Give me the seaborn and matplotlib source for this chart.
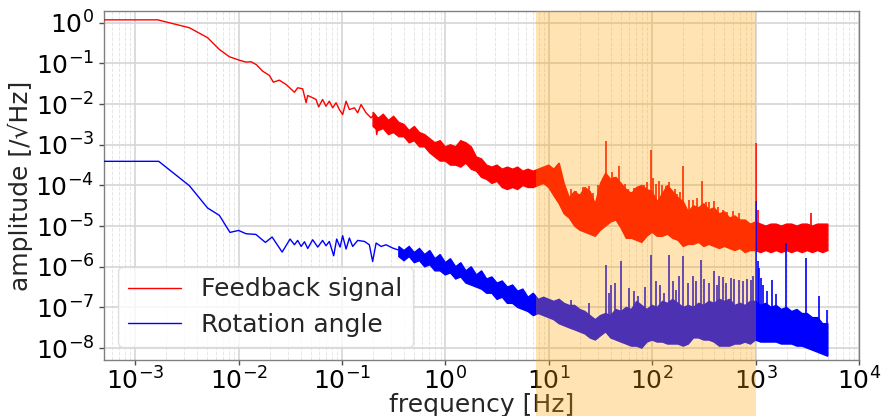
import matplotlib
matplotlib.use("Agg")
import numpy as np
import pandas as pd
import matplotlib.pyplot as plt
from matplotlib.lines import Line2D
from matplotlib.ticker import LogLocator, NullFormatter, NullLocator
import seaborn as sns

# ---------------------------------------------------------------------------
# Amplitude spectral densities
# ---------------------------------------------------------------------------
LABEL_FB = "Feedback signal"
LABEL_ROT = "Rotation angle"

# Low-frequency bins, drawn as a plain trace (first bin is DC)
fb_freq = [0.0, 1.65e-3, 3.34e-3, 5.02e-3, 6.52e-3, 8.15e-3, 1.02e-2, 1.18e-2,
           1.32e-2, 1.48e-2, 1.71e-2, 1.99e-2, 2.17e-2, 2.48e-2, 2.88e-2,
           3.47e-2, 3.73e-2, 4.17e-2, 4.50e-2, 4.66e-2, 5.21e-2, 5.61e-2,
           5.95e-2, 6.50e-2, 7.00e-2, 7.55e-2, 8.13e-2, 8.77e-2, 9.44e-2,
           0.1016, 0.1096, 0.118, 0.132, 0.142, 0.153, 0.171, 0.191, 0.206,
           0.217, 0.230, 0.257, 0.267]
fb_amp = [1.18, 1.18, 0.757, 0.43, 0.221, 0.146, 0.120, 0.108,
          0.110, 0.094, 0.0646, 0.0506, 0.0346, 0.0388, 0.0304,
          0.0196, 0.0252, 0.0238, 0.0108, 0.0163, 0.0143, 0.0130,
          0.00858, 0.0130, 0.00888, 0.0118, 0.0081, 0.0108, 0.00736,
          0.00554, 0.0118, 0.00736, 0.0081, 0.0061, 0.00977, 0.0061, 0.0046,
          0.00554, 0.00178, 0.00418, 0.00504, 0.00237]

rot_freq = [0.0, 1.69e-3, 3.34e-3, 5.02e-3, 6.52e-3, 8.26e-3, 1.0e-2, 1.18e-2,
            1.47e-2, 1.82e-2, 2.11e-2, 2.64e-2, 3.15e-2, 3.47e-2, 3.73e-2,
            4.03e-2, 4.34e-2, 4.67e-2, 5.21e-2, 5.83e-2, 6.50e-2, 7.01e-2,
            7.55e-2, 8.32e-2, 8.89e-2, 9.59e-2, 0.1016, 0.1096, 0.118, 0.127,
            0.142, 0.165, 0.184, 0.198, 0.214, 0.239, 0.267, 0.309, 0.346]
rot_amp = [3.92e-4, 3.92e-4, 9.89e-5, 2.79e-5, 1.84e-5, 7.0e-6, 7.83e-6, 6.5e-6,
           6.25e-6, 3.97e-6, 5.40e-6, 2.30e-6, 4.81e-6, 3.48e-6, 4.45e-6,
           3.16e-6, 4.13e-6, 2.82e-6, 4.62e-6, 3.05e-6, 4.45e-6, 3.29e-6,
           4.20e-6, 1.87e-6, 4.81e-6, 3.05e-6, 5.81e-6, 2.73e-6, 5.09e-6, 3.16e-6,
           4.45e-6, 4.20e-6, 3.48e-6, 1.35e-6, 3.84e-6, 3.16e-6, 3.48e-6, 2.89e-6,
           2.62e-6]

# Dense part of the spectra (0.2 Hz - 5 kHz): top and bottom of the noise band
band_freq = [0.200, 0.224, 0.251, 0.282, 0.316, 0.355, 0.398, 0.447, 0.501,
             0.562, 0.631, 0.708, 0.794, 0.891,
             1.00, 1.12, 1.26, 1.41, 1.58, 1.78, 2.00, 2.24, 2.51, 2.82, 3.16,
             3.55, 3.98, 4.47, 5.01, 5.62, 6.31, 7.08, 7.94, 8.91,
             10.0, 11.2, 12.6, 14.1, 15.8, 17.8, 20.0, 22.4, 25.1, 28.2, 31.6,
             35.5, 39.8, 44.7, 50.1, 56.2, 63.1, 70.8, 79.4, 89.1,
             100.0, 112.0, 126.0, 141.0, 158.0, 178.0, 200.0, 224.0, 251.0,
             282.0, 316.0, 355.0, 398.0, 447.0, 501.0, 562.0, 631.0, 708.0,
             794.0, 891.0,
             1000.0, 1122.0, 1259.0, 1413.0, 1585.0, 1778.0, 1995.0, 2239.0,
             2512.0, 2818.0, 3162.0, 3548.0, 3981.0, 4467.0, 5000.0]

fb_band_top = [6.31e-3, 4.47e-3, 5.62e-3, 3.98e-3, 5.01e-3, 3.55e-3, 3.16e-3,
               2.24e-3, 2.82e-3, 2.00e-3, 1.78e-3, 1.41e-3, 1.12e-3, 1.26e-3,
               8.91e-4, 1.00e-3, 8.91e-4, 1.26e-3, 1.12e-3, 8.91e-4, 5.01e-4,
               4.47e-4, 3.16e-4, 2.82e-4, 3.16e-4, 2.51e-4, 2.82e-4, 2.51e-4,
               2.82e-4, 2.24e-4, 2.51e-4, 2.24e-4, 2.51e-4, 2.82e-4,
               3.16e-4, 2.51e-4, 3.55e-4, 1.12e-4, 5.01e-5, 7.08e-5, 5.62e-5,
               8.91e-5, 7.08e-5, 3.55e-5, 1.12e-4, 2.00e-4, 1.41e-4, 1.58e-4,
               1.12e-4, 7.94e-5, 6.31e-5, 8.91e-5, 1.00e-4, 7.94e-5,
               7.08e-5, 3.98e-5, 6.31e-5, 1.00e-4, 7.08e-5, 5.01e-5, 3.98e-5,
               2.24e-5, 3.16e-5, 2.82e-5, 3.55e-5, 2.51e-5, 2.82e-5, 2.00e-5,
               2.24e-5, 1.58e-5, 1.78e-5, 1.41e-5, 1.41e-5, 1.12e-5,
               1.26e-5, 1.12e-5, 1.00e-5, 1.12e-5, 1.12e-5, 1.00e-5, 1.12e-5,
               1.12e-5, 1.00e-5, 1.12e-5, 1.12e-5, 1.00e-5, 1.12e-5, 1.12e-5,
               1.12e-5]
fb_band_bottom = [2.82e-3, 2.24e-3, 2.51e-3, 1.78e-3, 2.00e-3, 1.58e-3, 1.58e-3,
                  1.12e-3, 1.26e-3, 8.91e-4, 8.91e-4, 6.31e-4, 5.01e-4, 3.98e-4,
                  3.98e-4, 3.16e-4, 3.16e-4, 2.82e-4, 3.55e-4, 2.51e-4, 2.24e-4,
                  1.58e-4, 1.41e-4, 1.12e-4, 1.26e-4, 8.91e-5, 7.94e-5, 8.91e-5,
                  7.94e-5, 1.00e-4, 8.91e-5, 8.91e-5, 1.00e-4, 1.12e-4,
                  8.91e-5, 5.62e-5, 3.55e-5, 2.00e-5, 1.58e-5, 1.00e-5, 7.94e-6,
                  7.08e-6, 6.31e-6, 5.62e-6, 7.94e-6, 1.00e-5, 1.26e-5, 1.41e-5,
                  8.91e-6, 5.01e-6, 5.01e-6, 4.47e-6, 3.98e-6, 5.62e-6,
                  7.08e-6, 5.62e-6, 5.62e-6, 6.31e-6, 5.01e-6, 4.47e-6, 3.16e-6,
                  3.55e-6, 3.55e-6, 3.98e-6, 3.16e-6, 3.55e-6, 3.16e-6, 2.82e-6,
                  3.16e-6, 2.82e-6, 2.51e-6, 2.82e-6, 2.24e-6, 2.51e-6,
                  2.51e-6, 2.24e-6, 2.51e-6, 2.24e-6, 2.51e-6, 2.24e-6, 2.51e-6,
                  2.24e-6, 2.51e-6, 2.24e-6, 2.51e-6, 2.24e-6, 2.51e-6, 2.24e-6,
                  2.51e-6]

# the rotation band starts at 0.355 Hz (sixth entry of band_freq)
rot_band_start = 5
rot_band_top = [3.16e-6, 2.51e-6, 3.16e-6, 2.24e-6, 2.82e-6, 2.00e-6, 2.51e-6,
                1.58e-6, 2.00e-6,
                1.26e-6, 1.58e-6, 1.00e-6, 1.26e-6, 7.94e-7, 1.00e-6, 6.31e-7,
                7.94e-7, 5.01e-7, 5.62e-7, 3.98e-7, 4.47e-7, 3.16e-7, 3.55e-7,
                2.51e-7, 2.82e-7, 1.78e-7, 2.24e-7, 1.58e-7, 1.78e-7,
                1.58e-7, 1.41e-7, 1.58e-7, 1.26e-7, 1.12e-7, 1.12e-7, 8.91e-8,
                7.94e-8, 6.31e-8, 5.01e-8, 6.31e-8, 7.08e-8, 6.31e-8, 8.91e-8,
                7.94e-8, 1.00e-7, 8.91e-8, 1.41e-7, 1.12e-7, 8.91e-8,
                1.12e-7, 1.00e-7, 1.41e-7, 1.26e-7, 1.58e-7, 1.26e-7, 1.00e-7,
                1.12e-7, 1.00e-7, 1.26e-7, 1.12e-7, 1.41e-7, 1.26e-7, 1.58e-7,
                1.41e-7, 1.58e-7, 1.12e-7, 1.26e-7, 1.12e-7, 1.41e-7,
                1.41e-7, 1.12e-7, 1.26e-7, 1.00e-7, 1.12e-7, 8.91e-8, 1.00e-7,
                7.94e-8, 8.91e-8, 7.08e-8, 7.08e-8, 5.62e-8, 5.62e-8, 3.98e-8,
                3.98e-8]
rot_band_bottom = [1.78e-6, 1.41e-6, 1.78e-6, 1.26e-6, 1.41e-6, 1.00e-6,
                   1.12e-6, 7.94e-7, 7.94e-7,
                   6.31e-7, 7.08e-7, 5.01e-7, 5.62e-7, 3.98e-7, 3.55e-7,
                   3.16e-7, 2.82e-7, 2.24e-7, 2.24e-7, 1.58e-7, 1.78e-7,
                   1.26e-7, 1.26e-7, 1.00e-7, 8.91e-8, 7.94e-8, 6.31e-8,
                   7.08e-8, 6.31e-8,
                   5.62e-8, 5.01e-8, 3.98e-8, 3.55e-8, 3.16e-8, 2.82e-8,
                   2.51e-8, 2.24e-8, 1.78e-8, 1.58e-8, 2.00e-8, 2.51e-8,
                   1.78e-8, 1.58e-8, 1.41e-8, 1.26e-8, 1.12e-8, 1.12e-8,
                   1.00e-8, 1.41e-8,
                   1.58e-8, 1.41e-8, 1.41e-8, 1.26e-8, 1.26e-8, 1.26e-8,
                   1.12e-8, 1.26e-8, 1.78e-8, 1.78e-8, 1.58e-8, 1.58e-8,
                   1.41e-8, 1.12e-8, 1.12e-8, 1.12e-8, 1.26e-8, 1.26e-8,
                   1.41e-8, 1.26e-8,
                   1.58e-8, 1.41e-8, 1.41e-8, 1.41e-8, 1.41e-8, 1.26e-8,
                   1.26e-8, 1.26e-8, 1.12e-8, 1.12e-8, 1.00e-8, 8.91e-9,
                   7.94e-9, 7.08e-9, 6.31e-9]

# Narrow spectral lines: frequency, floor, peak
fb_line_freq = [16.44, 18.5, 19.5, 21.28, 22.5, 24.72, 27.0, 30.0, 33.2, 35.8,
                40.5, 42.5, 45.5, 48.2, 55.0, 58.5, 62.0, 66.0, 72.4, 75.2,
                84.1, 90.0, 97.5, 103.0, 108.0, 117.5, 125.0, 136.1, 146.6,
                165.0, 175.0, 185.0, 200.4, 225.0, 246.6, 270.0, 304.1, 330.0,
                357.3, 399.9, 430.0, 480.8, 530.0, 601.2, 696.6, 1000.0,
                1064.0, 3436.0]
fb_line_floor = [2e-5, 2e-5, 2e-5, 2e-5, 2e-5, 2e-5, 2e-5, 2e-5, 3e-5, 3e-5,
                 3e-5, 3e-5, 3e-5, 3e-5, 2e-5, 2e-5, 1.5e-5, 1.5e-5, 1.5e-5,
                 1.5e-5, 1.5e-5, 1.5e-5, 1.5e-5, 1.5e-5, 1.5e-5, 1.5e-5,
                 1.5e-5, 1.5e-5, 1.5e-5, 1e-5, 1e-5, 1e-5, 1e-5, 1e-5, 1e-5,
                 1e-5, 1e-5, 8e-6, 8e-6, 8e-6, 6e-6, 6e-6, 6e-6, 6e-6, 6e-6,
                 5e-6, 5e-6, 5e-6]
fb_line_peak = [8.2e-5, 7.5e-5, 6.0e-5, 9.18e-5, 8.0e-5, 9.89e-5, 6.5e-5,
                1.0e-4, 1.53e-4, 1.22e-3, 2.2e-4, 1.6e-4, 1.3e-4, 2.95e-4,
                1.1e-4, 8.0e-5, 7.0e-5, 8.5e-5, 9.18e-5, 9.51e-5, 1.05e-4,
                1.2e-4, 7.33e-4, 1.5e-4, 1.1e-4, 1.26e-4, 1.0e-4, 9.89e-5,
                1.19e-4, 8.0e-5, 6.0e-5, 7.0e-5, 2.95e-4, 4.5e-5, 4.47e-5,
                5.0e-5, 1.26e-4, 4.0e-5, 3.81e-5, 4.06e-5, 3.0e-5, 2.54e-5,
                2.2e-5, 2.39e-5, 2.10e-5, 1.11e-3, 2.54e-5, 2.10e-5]

rot_line_freq = [16.44, 24.72, 35.8, 38.55, 40.0, 44.0, 50.0, 60.0, 66.0, 72.4,
                 85.0, 97.5, 110.0, 120.0, 131.2, 146.6, 160.0, 170.2, 180.0,
                 197.2, 220.0, 246.6, 265.0, 297.2, 320.0, 357.3, 399.9, 420.0,
                 446.7, 480.0, 520.0, 579.4, 620.0, 696.6, 750.0, 820.0, 903.6,
                 950.0, 1000.0, 1064.0, 1089.0, 1135.0, 1175.0, 1300.0, 1432.0,
                 1580.0, 1972.0, 3083.0, 4111.0, 4909.0]
rot_line_floor = [4e-8, 3e-8, 3e-8, 3e-8, 3e-8, 3e-8, 3e-8, 3e-8, 3e-8, 3e-8,
                  3e-8, 3e-8, 3e-8, 3e-8, 3e-8, 3e-8, 3e-8, 3e-8, 3e-8, 3e-8,
                  3e-8, 3e-8, 3e-8, 3e-8, 3e-8, 3e-8, 3e-8, 3e-8, 3e-8, 3e-8,
                  3e-8, 3e-8, 3e-8, 3e-8, 3e-8, 3e-8, 3e-8, 3e-8, 3e-8, 3e-8,
                  3e-8, 3e-8, 3e-8, 3e-8, 3e-8, 3e-8, 3e-8, 3e-8, 2e-8, 1.5e-8]
rot_line_peak = [1.54e-7, 1.28e-7, 1.12e-6, 2.25e-7, 3.5e-7, 4.0e-7, 1.35e-6,
                 3.0e-7, 2.5e-7, 1.86e-7, 3.2e-7, 1.98e-6, 4.5e-7, 3.5e-7,
                 2.25e-7, 1.98e-6, 4.5e-7, 2.72e-7, 6.0e-7, 1.87e-6, 4.0e-7,
                 5.77e-7, 4.5e-7, 1.49e-6, 5.0e-7, 3.96e-7, 7.66e-7, 3.5e-7,
                 5.77e-7, 5.5e-7, 4.0e-7, 5.27e-7, 5.0e-7, 4.79e-7, 4.5e-7,
                 5.0e-7, 4.79e-7, 6.0e-7, 4.06e-5, 1.35e-6, 9.4e-7, 5.27e-7,
                 3.5e-7, 2.5e-7, 4.79e-7, 2.2e-7, 3.84e-6, 1.64e-6, 1.86e-7,
                 8.73e-8]

# Band of interest
band_lo, band_hi = 7.5, 1000.0

x_ticks = [1e-3, 1e-2, 1e-1, 1e0, 1e1, 1e2, 1e3, 1e4]
y_ticks = [1e-8, 1e-7, 1e-6, 1e-5, 1e-4, 1e-3, 1e-2, 1e-1, 1e0]

# ---------------------------------------------------------------------------
sns.set_style("white")
plt.rcParams.update({
    "font.family": ["DejaVu Sans"],
    "axes.edgecolor": "0.5",
    "axes.linewidth": 1.0,
    "xtick.color": "0.3",
    "ytick.color": "0.3",
    "xtick.labelcolor": "black",
    "ytick.labelcolor": "black",
})

colors = {LABEL_FB: "#ff0000", LABEL_ROT: "#0000ff"}

fig = plt.figure(figsize=(8.83, 4.16), dpi=100)
ax = fig.add_axes([0.1178, 0.1346, 0.8550, 0.8390])

sparse = pd.concat([
    pd.DataFrame({"freq": fb_freq, "amp": fb_amp, "signal": LABEL_FB}),
    pd.DataFrame({"freq": rot_freq, "amp": rot_amp, "signal": LABEL_ROT}),
], ignore_index=True)

sns.lineplot(data=sparse, x="freq", y="amp", hue="signal", palette=colors,
             estimator=None, sort=False, linewidth=1.0, legend=False, ax=ax,
             zorder=3)

# noisy bands as closed polygons between top and bottom
rot_band_freq = band_freq[rot_band_start:]
for f, top, bottom, lab in [
        (band_freq, fb_band_top, fb_band_bottom, LABEL_FB),
        (rot_band_freq, rot_band_top, rot_band_bottom, LABEL_ROT)]:
    px = list(f) + list(f)[::-1]
    py = list(top) + list(bottom)[::-1]
    ax.fill(px, py, facecolor=colors[lab], edgecolor=colors[lab],
            linewidth=1.0, zorder=3)

ax.vlines(fb_line_freq, fb_line_floor, fb_line_peak, color=colors[LABEL_FB],
          linewidth=1.2, zorder=3)
ax.vlines(rot_line_freq, rot_line_floor, rot_line_peak,
          color=colors[LABEL_ROT], linewidth=1.2, zorder=3)

ax.set_xscale("log")
ax.set_yscale("log")
ax.set_xlim(5e-4, 1e4)
ax.set_ylim(5.1e-9, 1.95)
ax.set_xticks(x_ticks)
ax.set_yticks(y_ticks)
ax.xaxis.set_minor_locator(LogLocator(base=10, subs=np.arange(2, 10), numticks=100))
ax.xaxis.set_minor_formatter(NullFormatter())
ax.yaxis.set_minor_locator(NullLocator())

ax.grid(True, which="major", color="#d6d6d6", linewidth=1.2, linestyle="-")
ax.grid(True, which="minor", axis="x", color="#e6e6e6", linewidth=0.7,
        linestyle="--")
ax.set_axisbelow(True)

ax.tick_params(which="major", direction="out", length=3.5, width=1.0,
               labelsize=18, left=True, bottom=True)
ax.tick_params(axis="x", which="major", pad=1.5)
ax.tick_params(which="minor", length=0)

ax.set_xlabel("frequency [Hz]", fontsize=18, labelpad=-1)
ax.set_ylabel("amplitude [/\u221aHz]", fontsize=18, labelpad=2)

handles = [Line2D([], [], color=colors[LABEL_FB], linewidth=1.0),
           Line2D([], [], color=colors[LABEL_ROT], linewidth=1.0)]
ax.legend(handles, [LABEL_FB, LABEL_ROT], loc="lower left",
          bbox_to_anchor=(0.0185, 0.037), borderaxespad=0.0, fontsize=18,
          framealpha=0.8, edgecolor="0.85", fancybox=True, handlelength=2.1,
          labelspacing=0.45, borderpad=0.42)

# highlighted frequency band, laid over everything and running down
# through the tick labels to the bottom of the figure
ax.axvspan(band_lo, band_hi, ymin=-0.3, ymax=1.0, facecolor="#ffa500",
           alpha=0.3, linewidth=0, zorder=10, clip_on=False)

fig.savefig("out.png", dpi=100)
